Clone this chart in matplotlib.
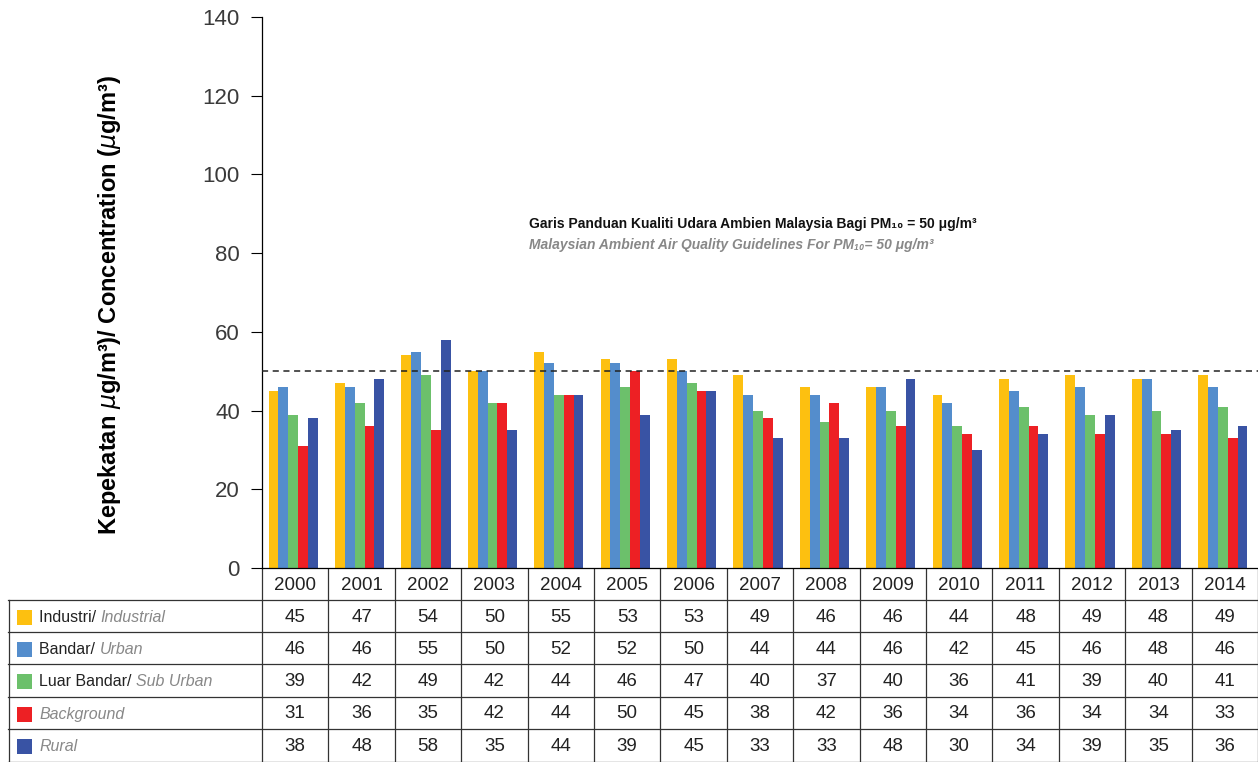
import matplotlib
matplotlib.use("Agg")
import matplotlib.pyplot as plt
from matplotlib.transforms import blended_transform_factory
import numpy as np

years = ["2000", "2001", "2002", "2003", "2004", "2005", "2006", "2007",
         "2008", "2009", "2010", "2011", "2012", "2013", "2014"]
industrial = [45, 47, 54, 50, 55, 53, 53, 49, 46, 46, 44, 48, 49, 48, 49]
urban = [46, 46, 55, 50, 52, 52, 50, 44, 44, 46, 42, 45, 46, 48, 46]
suburban = [39, 42, 49, 42, 44, 46, 47, 40, 37, 40, 36, 41, 39, 40, 41]
background = [31, 36, 35, 42, 44, 50, 45, 38, 42, 36, 34, 36, 34, 34, 33]
rural = [38, 48, 58, 35, 44, 39, 45, 33, 33, 48, 30, 34, 39, 35, 36]

series = [industrial, urban, suburban, background, rural]
label_main = ["Industri/ ", "Bandar/ ", "Luar Bandar/ ", "", ""]
label_ital = ["Industrial", "Urban", "Sub Urban", "Background", "Rural"]
colors = ["#FDC010", "#548DCC", "#6CC06B", "#ED2024", "#3953A4"]
guideline = 50
yticks = [0, 20, 40, 60, 80, 100, 120, 140]

W, H = 1258, 762
fig = plt.figure(figsize=(W / 100, H / 100), dpi=100)
FONT = ["Liberation Sans", "DejaVu Sans"]
plt.rcParams["font.family"] = FONT

x0, x1 = 262, 1258
yb, yt = 568, 17
ax = fig.add_axes([x0 / W, 1 - yb / H, (x1 - x0) / W, (yb - yt) / H])
ov = fig.add_axes([0, 0, 1, 1], zorder=-1)
ov.set_xlim(0, W)
ov.set_ylim(H, 0)
ov.axis("off")

n = len(years)
x = np.arange(n)
bw = 0.148
for k, (vals, c) in enumerate(zip(series, colors)):
    ax.bar(x + (k - 2.2) * bw, vals, width=bw, color=c, linewidth=0, zorder=2)

ax.set_xlim(-0.5, n - 0.5)
ax.set_ylim(0, 140)
ax.set_yticks(yticks)
ax.set_yticklabels([str(v) for v in yticks], fontsize=16, color="#3a3a3a")
ax.tick_params(axis="y", length=8, width=0.8, pad=8, direction="out")
ax.set_xticks([])
for s in ["top", "right"]:
    ax.spines[s].set_visible(False)
ax.spines["left"].set_linewidth(0.9)
ax.spines["bottom"].set_linewidth(0.9)

ax.axhline(guideline, color="#222222", linestyle=(0, (4, 3)), linewidth=1.1, zorder=3)

ax.set_ylabel("Kepekatan $\\mu$g/m\u00b3)/ Concentration ($\\mu$g/m\u00b3)",
              fontsize=17, fontweight="bold")
ax.yaxis.set_label_coords(-0.14, 0.477)

ax.text(0.268, 0.624, "Garis Panduan Kualiti Udara Ambien Malaysia Bagi PM\u2081\u2080 = 50 \u03bcg/m\u00b3",
        transform=ax.transAxes, fontsize=10, fontweight="bold",
        color="#111111", va="center", ha="left")
ax.text(0.268, 0.586, "Malaysian Ambient Air Quality Guidelines For PM\u2081\u2080= 50 \u03bcg/m\u00b3",
        transform=ax.transAxes, fontsize=10, fontweight="bold", style="italic",
        color="#888888", va="center", ha="left")

# table
tr = blended_transform_factory(ax.transData, ov.transData)
row_edges = [568, 600, 632, 664, 697, 729, 762]
lc = "#333333"
lw = 0.9
for i in range(n):
    ov.text(i, (row_edges[0] + row_edges[1]) / 2 + 1, years[i], transform=tr,
            ha="center", va="center", fontsize=13.5, color="#222222")
for b in np.arange(-0.5, n, 1.0):
    ov.plot([b, b], [568, 762], transform=tr, color=lc, lw=lw, clip_on=False)
for yv in row_edges[1:-1]:
    ov.plot([8, W], [yv, yv], color=lc, lw=lw)
ov.plot([8, W], [761.5, 761.5], color=lc, lw=lw)
ov.plot([8.5, 8.5], [600, 762], color=lc, lw=lw)

fig.canvas.draw()
renderer = fig.canvas.get_renderer()
for r in range(5):
    yc = (row_edges[r + 1] + row_edges[r + 2]) / 2 + 1
    ov.add_patch(plt.Rectangle((17, yc - 7.5), 15, 15, color=colors[r], lw=0))
    if label_main[r]:
        t = ov.text(39, yc, label_main[r], ha="left", va="center", fontsize=11.5, color="#222222")
        bb = t.get_window_extent(renderer)
        xt = 39 + bb.width
    else:
        xt = 40
    ov.text(xt, yc, label_ital[r], ha="left", va="center", fontsize=11.5,
            color="#888888", style="italic")
    for i in range(n):
        ov.text(i, yc, str(series[r][i]), transform=tr, ha="center", va="center",
                fontsize=13.5, color="#222222")

fig.savefig("out.png", dpi=100)
